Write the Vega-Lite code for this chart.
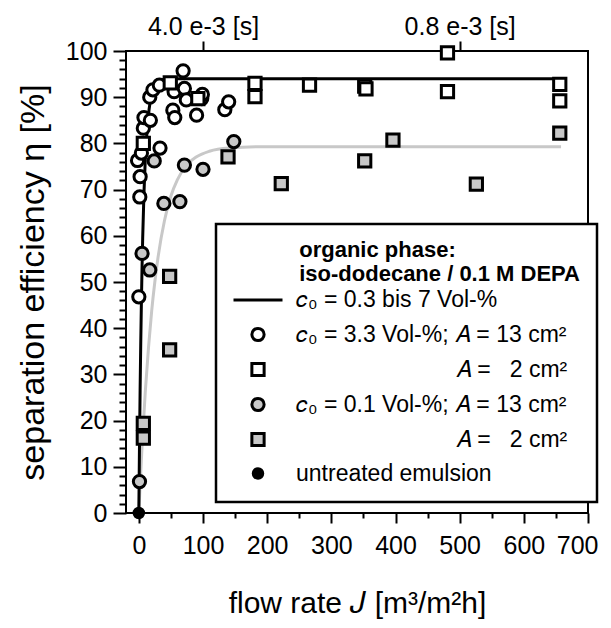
{
  "$schema": "https://vega.github.io/schema/vega-lite/v6.json",
  "width": 462,
  "height": 462,
  "autosize": {"type": "none"},
  "padding": {"left": 126, "top": 51, "right": 23, "bottom": 115},
  "background": "white",
  "datasets": {
    "grey_curve": [
      {"J": 0, "eta": 0}, {"J": 2, "eta": 6.1}, {"J": 5, "eta": 14.4}, {"J": 10, "eta": 26.1},
      {"J": 15, "eta": 35.7}, {"J": 20, "eta": 43.7}, {"J": 25, "eta": 50.1}, {"J": 30, "eta": 55.4},
      {"J": 40, "eta": 63.3}, {"J": 50, "eta": 68.6}, {"J": 60, "eta": 72.1}, {"J": 75, "eta": 75.4},
      {"J": 90, "eta": 77.1}, {"J": 110, "eta": 78.3}, {"J": 140, "eta": 79.0}, {"J": 200, "eta": 79.3},
      {"J": 658, "eta": 79.3}
    ],
    "black_curve": [
      {"J": 0, "eta": 0}, {"J": 1, "eta": 14.4}, {"J": 2, "eta": 26.6}, {"J": 3, "eta": 37},
      {"J": 4, "eta": 45.7}, {"J": 5, "eta": 53.1}, {"J": 6, "eta": 59.4}, {"J": 8, "eta": 69.3},
      {"J": 10, "eta": 76.3}, {"J": 13, "eta": 83}, {"J": 16, "eta": 87.4}, {"J": 20, "eta": 90.6},
      {"J": 25, "eta": 92.6}, {"J": 30, "eta": 93.4}, {"J": 40, "eta": 93.9}, {"J": 60, "eta": 94},
      {"J": 658, "eta": 94}
    ],
    "points": [
      {"J": 0, "eta": 46.8, "series": "c33A13"},
      {"J": 1.5, "eta": 68.4, "series": "c33A13"},
      {"J": 2, "eta": 72.8, "series": "c33A13"},
      {"J": -2, "eta": 76.3, "series": "c33A13"},
      {"J": 4, "eta": 77.9, "series": "c33A13"},
      {"J": 7, "eta": 83.3, "series": "c33A13"},
      {"J": 8, "eta": 85.6, "series": "c33A13"},
      {"J": 18, "eta": 85.0, "series": "c33A13"},
      {"J": 17, "eta": 90.0, "series": "c33A13"},
      {"J": 22, "eta": 91.6, "series": "c33A13"},
      {"J": 32, "eta": 92.6, "series": "c33A13"},
      {"J": 33, "eta": 79.0, "series": "c33A13"},
      {"J": 53, "eta": 87.2, "series": "c33A13"},
      {"J": 56, "eta": 85.6, "series": "c33A13"},
      {"J": 55, "eta": 91.2, "series": "c33A13"},
      {"J": 69, "eta": 95.7, "series": "c33A13"},
      {"J": 71, "eta": 91.9, "series": "c33A13"},
      {"J": 74, "eta": 89.4, "series": "c33A13"},
      {"J": 90, "eta": 86.1, "series": "c33A13"},
      {"J": 98, "eta": 89.7, "series": "c33A13"},
      {"J": 99, "eta": 90.6, "series": "c33A13"},
      {"J": 134, "eta": 87.3, "series": "c33A13"},
      {"J": 140, "eta": 89.0, "series": "c33A13"},
      {"J": 7, "eta": 80.0, "series": "c33A2"},
      {"J": 49, "eta": 93.1, "series": "c33A2"},
      {"J": 92, "eta": 89.7, "series": "c33A2"},
      {"J": 181, "eta": 93.0, "series": "c33A2"},
      {"J": 181, "eta": 90.1, "series": "c33A2"},
      {"J": 266, "eta": 92.6, "series": "c33A2"},
      {"J": 352, "eta": 92.4, "series": "c33A2"},
      {"J": 354, "eta": 91.8, "series": "c33A2"},
      {"J": 481, "eta": 99.6, "series": "c33A2"},
      {"J": 481, "eta": 91.2, "series": "c33A2"},
      {"J": 656, "eta": 92.8, "series": "c33A2"},
      {"J": 656, "eta": 89.2, "series": "c33A2"},
      {"J": 1, "eta": 6.8, "series": "c01A13"},
      {"J": 5, "eta": 56.2, "series": "c01A13"},
      {"J": 17, "eta": 52.6, "series": "c01A13"},
      {"J": 24, "eta": 76.2, "series": "c01A13"},
      {"J": 39, "eta": 67.0, "series": "c01A13"},
      {"J": 64, "eta": 67.4, "series": "c01A13"},
      {"J": 71, "eta": 75.3, "series": "c01A13"},
      {"J": 100, "eta": 74.4, "series": "c01A13"},
      {"J": 148, "eta": 80.4, "series": "c01A13"},
      {"J": 7, "eta": 19.4, "series": "c01A2"},
      {"J": 7, "eta": 16.2, "series": "c01A2"},
      {"J": 48, "eta": 51.2, "series": "c01A2"},
      {"J": 48, "eta": 35.3, "series": "c01A2"},
      {"J": 139, "eta": 77.1, "series": "c01A2"},
      {"J": 222, "eta": 71.3, "series": "c01A2"},
      {"J": 352, "eta": 76.2, "series": "c01A2"},
      {"J": 396, "eta": 80.7, "series": "c01A2"},
      {"J": 526, "eta": 71.2, "series": "c01A2"},
      {"J": 656, "eta": 82.2, "series": "c01A2"},
      {"J": 0, "eta": 0, "series": "untreated"}
    ]
  },
  "layer": [
    {
      "data": {"name": "grey_curve"},
      "mark": {"type": "line", "color": "#c8c8c8", "strokeWidth": 3, "interpolate": "monotone"},
      "encoding": {
        "x": {"field": "J", "type": "quantitative", "scale": {"domain": [-20, 700], "nice": false, "zero": false},
          "axis": {"orient": "bottom", "values": [0, 100, 200, 300, 400, 500, 600, 700], "tickSize": 10, "labelPadding": 10, "labelFontSize": 25,
            "labelFlush": 5, "labelFlushOffset": 10,
            "title": "flow rate 𝐽 [m³/m²h]", "titleFontSize": 30, "titleY": 90, "titleBaseline": "middle"}},
        "y": {"field": "eta", "type": "quantitative", "scale": {"domain": [0, 100], "nice": false},
          "axis": {"orient": "left", "values": [0, 10, 20, 30, 40, 50, 60, 70, 80, 90, 100], "tickSize": 13, "labelPadding": 6, "labelFontSize": 25,
            "title": "separation efficiency η [%]", "titleFontSize": 34, "titleX": -93, "titleY": 231, "titleBaseline": "middle", "titleAngle": 270}}
      }
    },
    {
      "data": {"name": "black_curve"},
      "mark": {"type": "line", "color": "black", "strokeWidth": 3, "interpolate": "monotone"},
      "encoding": {
        "x": {"field": "J", "type": "quantitative", "scale": {"domain": [-20, 700], "nice": false, "zero": false},
          "axis": {"orient": "bottom", "values": [50, 150, 250, 350, 450, 550, 650], "tickSize": 5, "labels": false, "title": null}},
        "y": {"field": "eta", "type": "quantitative", "scale": {"domain": [0, 100], "nice": false},
          "axis": {"orient": "left", "values": [2, 4, 6, 8, 12, 14, 16, 18, 22, 24, 26, 28, 32, 34, 36, 38, 42, 44, 46, 48, 52, 54, 56, 58, 62, 64, 66, 68, 72, 74, 76, 78, 82, 84, 86, 88, 92, 94, 96, 98], "tickSize": 7, "labels": false, "title": null}}
      }
    },
    {
      "data": {"name": "points"},
      "mark": {"type": "point", "filled": true, "opacity": 1},
      "encoding": {
        "x": {"field": "J", "type": "quantitative", "scale": {"domain": [-20, 700], "nice": false, "zero": false},
          "axis": {"orient": "top", "values": [100, 500], "tickSize": 10, "labelPadding": 2, "labelFontSize": 25, "title": null,
            "labelExpr": "datum.value === 100 ? '4.0 e-3 [s]' : '0.8 e-3 [s]'"}},
        "y": {"field": "eta", "type": "quantitative", "scale": {"domain": [0, 100], "nice": false}, "axis": null},
        "shape": {"field": "series", "type": "nominal",
          "scale": {"domain": ["line", "c33A13", "c33A2", "c01A13", "c01A2", "untreated"],
            "range": ["stroke", "circle", "square", "circle", "square", "circle"]},
          "legend": {"title": ["\u200b\u00a0\u00a0\u00a0\u00a0\u00a0\u00a0\u00a0\u00a0\u00a0\u00a0\u00a0organic phase:", "\u200b\u00a0\u00a0\u00a0\u00a0\u00a0\u00a0\u00a0\u00a0\u00a0\u00a0\u00a0iso-dodecane / 0.1 M DEPA"],
            "labelExpr": "datum.value === 'line' ? '𝑐₀ = 0.3 bis 7 Vol-%' : datum.value === 'c33A13' ? '𝑐₀ = 3.3 Vol-%; 𝐴 = 13 cm²' : datum.value === 'c33A2' ? '\u200b\u00a0\u00a0\u00a0\u00a0\u00a0\u00a0\u00a0\u00a0\u00a0\u00a0\u00a0\u00a0\u00a0\u00a0\u00a0\u00a0\u00a0\u00a0\u00a0\u00a0\u00a0\u00a0\u00a0\u00a0\u00a0𝐴 = \u00a0\u00a02 cm²' : datum.value === 'c01A13' ? '𝑐₀ = 0.1 Vol-%; 𝐴 = 13 cm²' : datum.value === 'c01A2' ? '\u200b\u00a0\u00a0\u00a0\u00a0\u00a0\u00a0\u00a0\u00a0\u00a0\u00a0\u00a0\u00a0\u00a0\u00a0\u00a0\u00a0\u00a0\u00a0\u00a0\u00a0\u00a0\u00a0\u00a0\u00a0\u00a0𝐴 = \u00a0\u00a02 cm²' : 'untreated emulsion'"}},
        "fill": {"field": "series", "type": "nominal",
          "scale": {"domain": ["line", "c33A13", "c33A2", "c01A13", "c01A2", "untreated"],
            "range": ["black", "white", "white", "#c8c8c8", "#c8c8c8", "black"]}},
        "stroke": {"field": "series", "type": "nominal",
          "scale": {"domain": ["line", "c33A13", "c33A2", "c01A13", "c01A2", "untreated"],
            "range": ["black", "black", "black", "black", "black", "black"]}},
        "strokeWidth": {"field": "series", "type": "nominal",
          "scale": {"type": "ordinal", "domain": ["line", "c33A13", "c33A2", "c01A13", "c01A2", "untreated"],
            "range": [3, 3, 3, 3, 3, 2]}},
        "size": {"field": "series", "type": "nominal",
          "scale": {"type": "ordinal", "domain": ["line", "c33A13", "c33A2", "c01A13", "c01A2", "untreated"],
            "range": [2401, 150, 150, 150, 150, 110]}}
      }
    }
  ],
  "resolve": {"axis": {"x": "independent", "y": "independent"}},
  "config": {
    "font": "Liberation Sans",
    "view": {"stroke": "black", "strokeWidth": 2},
    "axis": {"domain": false, "grid": false, "tickColor": "black", "tickWidth": 2, "labelColor": "black",
      "labelFont": "Liberation Sans", "titleFont": "Liberation Sans", "titleColor": "black", "titleFontWeight": "normal"},
    "legend": {
      "orient": "none", "legendX": 90, "legendY": 173, "direction": "vertical",
      "padding": 16, "strokeColor": "black", "strokeWidth": 2.5, "fillColor": "white", "cornerRadius": 0,
      "titleFont": "Liberation Sans", "titleFontSize": 22, "titleFontWeight": "bold", "titleColor": "black", "titleLineHeight": 24, "titlePadding": -12, "titleLimit": 1000,
      "labelFont": "Liberation Sans", "labelFontSize": 23, "labelColor": "black", "labelOffset": 12, "labelLimit": 0,
      "rowPadding": 10, "symbolOffset": 0
    }
  }
}
